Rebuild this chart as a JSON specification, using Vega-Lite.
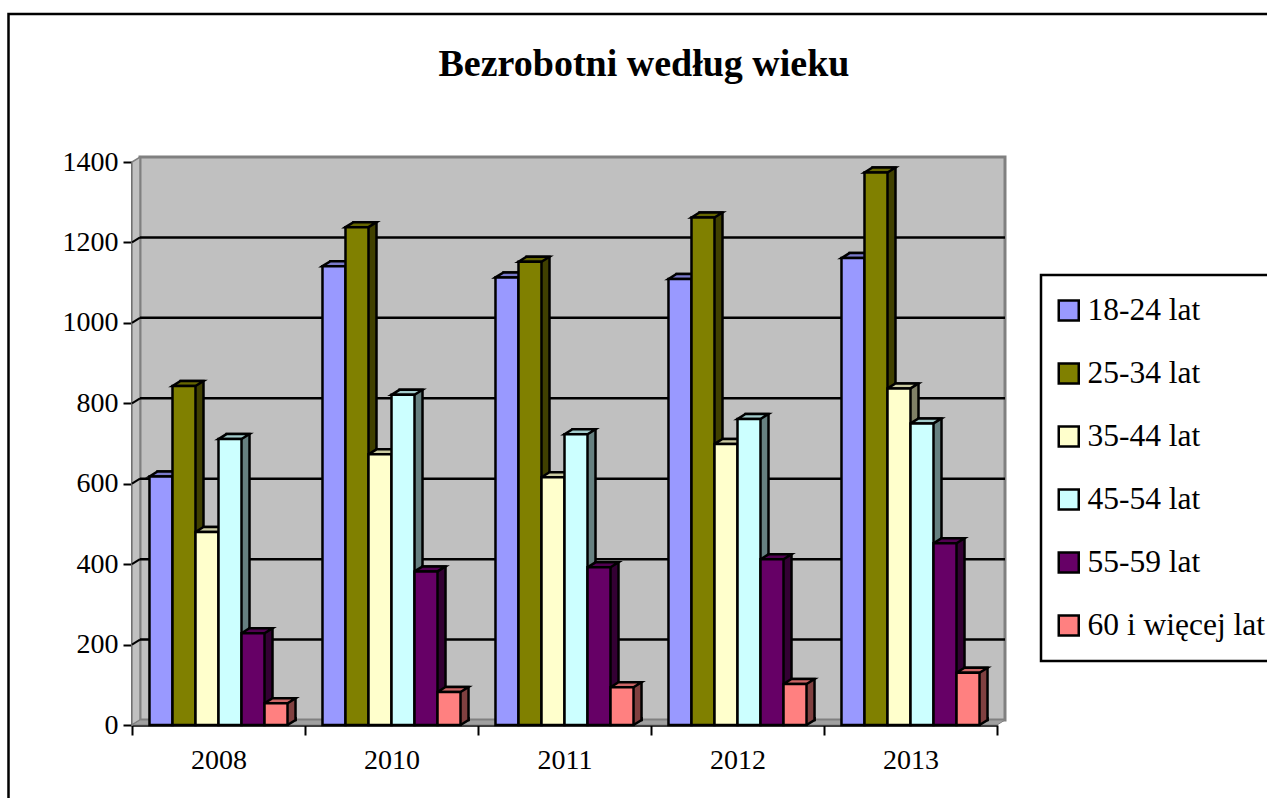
{
"$schema":"https://vega.github.io/schema/vega-lite/v6.json",
"width":865,"height":563,
"autosize":{"type":"none"},
"padding":{"left":132,"top":162,"right":270,"bottom":73},
"background":"white",
"title":{"text":"Bezrobotni według wieku","font":"Liberation Serif","fontSize":38,"fontWeight":"bold","color":"black","anchor":"middle","frame":"group","dx":79.5,"offset":-71},
"config":{"view":{"stroke":null},"axis":{"zindex":1},"legend":{"strokeWidth":2.5}},
"datasets":{
"bars":[
{"year":"2008","series":"18-24 lat","value":618},{"year":"2008","series":"25-34 lat","value":843},{"year":"2008","series":"35-44 lat","value":480},{"year":"2008","series":"45-54 lat","value":711},{"year":"2008","series":"55-59 lat","value":228},{"year":"2008","series":"60 i więcej lat","value":54},
{"year":"2010","series":"18-24 lat","value":1141},{"year":"2010","series":"25-34 lat","value":1238},{"year":"2010","series":"35-44 lat","value":673},{"year":"2010","series":"45-54 lat","value":821},{"year":"2010","series":"55-59 lat","value":382},{"year":"2010","series":"60 i więcej lat","value":82},
{"year":"2011","series":"18-24 lat","value":1113},{"year":"2011","series":"25-34 lat","value":1152},{"year":"2011","series":"35-44 lat","value":616},{"year":"2011","series":"45-54 lat","value":723},{"year":"2011","series":"55-59 lat","value":392},{"year":"2011","series":"60 i więcej lat","value":94},
{"year":"2012","series":"18-24 lat","value":1109},{"year":"2012","series":"25-34 lat","value":1262},{"year":"2012","series":"35-44 lat","value":699},{"year":"2012","series":"45-54 lat","value":761},{"year":"2012","series":"55-59 lat","value":412},{"year":"2012","series":"60 i więcej lat","value":102},
{"year":"2013","series":"18-24 lat","value":1161},{"year":"2013","series":"25-34 lat","value":1374},{"year":"2013","series":"35-44 lat","value":837},{"year":"2013","series":"45-54 lat","value":750},{"year":"2013","series":"55-59 lat","value":452},{"year":"2013","series":"60 i więcej lat","value":130}
],
"ticks":[{"tick":200},{"tick":400},{"tick":600},{"tick":800},{"tick":1000},{"tick":1200}]
},
"resolve":{"scale":{"color":"independent","y":"independent","xOffset":"independent"}},
"layer":[
{"data":{"values":[{}]},"mark":{"type":"rect","fill":null,"stroke":"black","strokeWidth":2.5},"encoding":{"x":{"value":-123.5},"x2":{"value":1300},"y":{"value":-148},"y2":{"value":800}}},
{"data":{"values":[{}]},"mark":{"type":"rect","fill":"#c0c0c0","stroke":"#808080","strokeWidth":3},"encoding":{"x":{"value":8},"x2":{"value":873},"y":{"value":-5},"y2":{"value":558}}},
{"data":{"values":[{}]},"mark":{"type":"point","filled":true,"opacity":1,"size":4,"shape":"M0,0L8,-5L8,-568L0,-563Z","fill":"#c0c0c0","stroke":"#808080","strokeWidth":1.5},"encoding":{"x":{"value":0},"y":{"value":563}}},
{"data":{"values":[{}]},"mark":{"type":"point","filled":true,"opacity":1,"size":4,"shape":"M0,0L8,-5L873,-5L865,0Z","fill":"#a0a0a0","stroke":"#808080","strokeWidth":1},"encoding":{"x":{"value":0},"y":{"value":563}}},
{"data":{"name":"ticks"},"mark":{"type":"rule","stroke":"black","strokeWidth":2.5},"encoding":{"x":{"value":8},"x2":{"value":873},"y":{"field":"tick","type":"quantitative","scale":{"domain":[0,1400],"nice":false,"range":[558,-5]},"axis":null}}},
{"data":{"name":"ticks"},"mark":{"type":"point","filled":false,"opacity":1,"size":4,"shape":"M0,0L8,-5","stroke":"black","strokeWidth":2},"encoding":{"x":{"value":0},"y":{"field":"tick","type":"quantitative","scale":{"domain":[0,1400],"nice":false},"axis":null}}},
{"data":{"name":"bars"},"mark":{"type":"bar","stroke":"black","strokeWidth":2.5},"encoding":{
"x":{"field":"year","type":"nominal","title":null,"scale":{"paddingInner":0,"paddingOuter":0},"axis":{"domainColor":"black","domainWidth":2.5,"tickColor":"black","tickWidth":2,"tickSize":10,"tickBand":"extent","labelFont":"Liberation Serif","labelFontSize":28,"labelColor":"black","labelAngle":0,"labelPadding":11}},
"xOffset":{"field":"series","type":"nominal","scale":{"type":"band","paddingOuter":0.76,"paddingInner":0,"range":[8,181]}},
"y":{"field":"value","type":"quantitative","scale":{"domain":[0,1400],"nice":false,"range":[558,-5]},"axis":null},
"color":{"field":"series","type":"nominal","legend":null,"scale":{"range":["#4d4d80","#404000","#808066","#668080","#330033","#804040"]}}}},
{"data":{"name":"bars"},"mark":{"type":"point","filled":true,"opacity":1,"size":4,"strokeWidth":0,"shape":"M11.5,0L19.5,-5L19.5,-8L11.5,-8Z"},"encoding":{
"x":{"field":"year","type":"nominal"},
"xOffset":{"field":"series","type":"nominal","scale":{"type":"band","paddingOuter":0.76,"paddingInner":0}},
"y":{"datum":0,"scale":{"domain":[0,1400],"nice":false},"axis":null},
"color":{"field":"series","type":"nominal","legend":null,"scale":{"range":["#4d4d80","#404000","#808066","#668080","#330033","#804040"]}}}},
{"data":{"name":"bars"},"mark":{"type":"point","filled":false,"opacity":1,"size":4,"stroke":"black","strokeWidth":2.5,"shape":"M11.5,0L19.5,-5L19.5,-8"},"encoding":{
"x":{"field":"year","type":"nominal"},
"xOffset":{"field":"series","type":"nominal","scale":{"type":"band","paddingOuter":0.76,"paddingInner":0}},
"y":{"datum":0,"scale":{"domain":[0,1400],"nice":false},"axis":null}}},
{"data":{"name":"bars"},"mark":{"type":"point","filled":true,"opacity":1,"size":4,"stroke":"black","strokeWidth":2.5,"shape":"M-11.5,0L-3.5,-5L19.5,-5L11.5,0Z"},"encoding":{
"x":{"field":"year","type":"nominal"},
"xOffset":{"field":"series","type":"nominal","scale":{"type":"band","paddingOuter":0.76,"paddingInner":0}},
"y":{"field":"value","type":"quantitative","scale":{"domain":[0,1400],"nice":false},"axis":null},
"color":{"field":"series","type":"nominal","legend":null,"scale":{"range":["#7a7acc","#666600","#ccccA3","#a3cccc","#520052","#cc6666"]}}}},
{"data":{"name":"bars"},"mark":{"type":"bar","stroke":"black","strokeWidth":2.5},"encoding":{
"x":{"field":"year","type":"nominal"},
"xOffset":{"field":"series","type":"nominal","scale":{"type":"band","paddingOuter":0.76,"paddingInner":0}},
"y":{"field":"value","type":"quantitative","title":null,"scale":{"domain":[0,1400],"nice":false},"axis":{"values":[0,200,400,600,800,1000,1200,1400],"grid":false,"domainColor":"black","domainWidth":2.5,"tickColor":"black","tickWidth":2,"tickSize":9,"labelFont":"Liberation Serif","labelFontSize":28,"labelColor":"black","labelPadding":5,"format":"d"}},
"color":{"field":"series","type":"nominal","scale":{"range":["#9999ff","#808000","#ffffcc","#ccffff","#660066","#ff8080"]},"legend":{"orient":"none","legendX":909,"legendY":113,"title":null,"symbolType":"square","symbolSize":400,"symbolStrokeColor":"black","symbolStrokeWidth":2.5,"symbolOpacity":1,"labelFont":"Liberation Serif","labelFontSize":31.5,"labelColor":"black","labelLimit":400,"fillColor":"white","strokeColor":"black","padding":12,"rowPadding":16,"labelOffset":3,"clipHeight":47}}}}
]
}
